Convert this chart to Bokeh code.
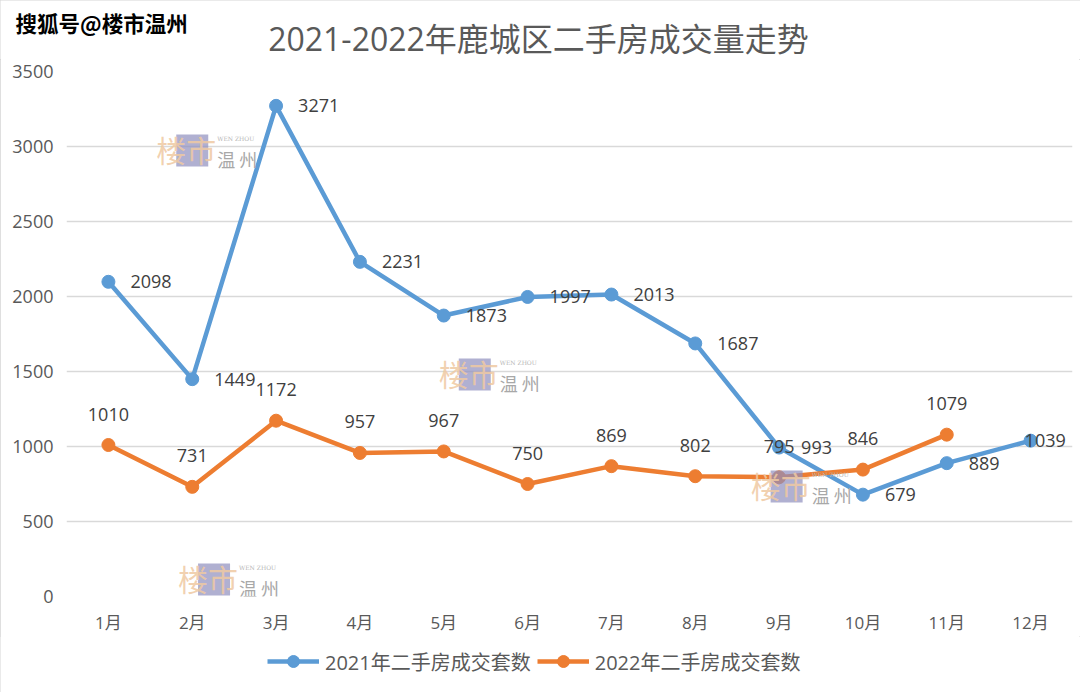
from bokeh.plotting import figure
from bokeh.layouts import column, row
from bokeh.models import (Range1d, FixedTicker, Legend, LegendItem, Label,
                          ColumnDataSource)
from bokeh.core.properties import value
from bokeh.embed import file_html
from bokeh.resources import INLINE

# ---------------- data ----------------
months = ["1月", "2月", "3月", "4月", "5月", "6月",
          "7月", "8月", "9月", "10月", "11月", "12月"]
sales_2021 = [2098, 1449, 3271, 2231, 1873, 1997, 2013, 1687, 993, 679, 889, 1039]
sales_2022 = [1010, 731, 1172, 957, 967, 750, 869, 802, 795, 846, 1079]
y_ticks = [0, 500, 1000, 1500, 2000, 2500, 3000, 3500]
title_text = "2021-2022年鹿城区二手房成交量走势"
legend_labels = ["2021年二手房成交套数", "2022年二手房成交套数"]
source_tag = "搜狐号@楼市温州"

# decorative watermark anchors (data coords)
watermark_x = [2.0, 5.37, 9.09, 2.26]
watermark_y = [2973, 1480, 733, 113]

# ---------------- style ----------------
BLUE = "#5B9BD5"
ORANGE = "#ED7D31"
GRID = "#d9d9d9"
AXIS_TXT = "#595959"
LBL_TXT = "#404040"
FONT = "Open Sans, Noto Sans CJK SC"
W = 1080
HEAD_H = 59
FOOT_H = 56

x_idx = list(range(1, len(months) + 1))
x22 = x_idx[:len(sales_2022)]


def bare(height, xr, yr):
    f = figure(width=W, height=height, x_range=xr, y_range=yr,
               output_backend="svg", toolbar_location=None,
               x_axis_location=None, y_axis_location=None,
               min_border=0)
    f.grid.visible = False
    f.outline_line_color = None
    f.background_fill_color = "white"
    f.border_fill_color = "white"
    return f


# ---------------- header strip (source tag + title) ----------------
head = bare(HEAD_H, Range1d(0, W), Range1d(HEAD_H, 0))
head.add_layout(Label(x=15, y=22, text=source_tag, text_align="left",
                      text_baseline="middle", text_font="Noto Sans CJK SC",
                      text_font_size="21.5px", text_font_style="bold",
                      text_color="black"))
head.add_layout(Label(x=538, y=38, text=title_text, text_align="center",
                      text_baseline="middle", text_font=FONT,
                      text_font_size="32px", text_color=AXIS_TXT))

# ---------------- main chart ----------------
p = figure(frame_width=1006, frame_height=525,
           x_range=Range1d(0.5, 12.5), y_range=Range1d(0, 3500),
           output_backend="svg", toolbar_location=None,
           min_border_left=66, min_border_right=8,
           min_border_top=12, min_border_bottom=40)
p.outline_line_color = None
p.background_fill_color = "white"
p.border_fill_color = "white"

p.xaxis.ticker = FixedTicker(ticks=x_idx)
p.xaxis.major_label_overrides = {i: m for i, m in zip(x_idx, months)}
p.xaxis.axis_line_color = None
p.xaxis.major_tick_line_color = None
p.xaxis.minor_tick_line_color = None
p.xaxis.major_tick_out = 0
p.xaxis.major_tick_in = 0
p.xaxis.minor_tick_out = 0
p.xaxis.major_label_text_font = FONT
p.xaxis.major_label_text_font_size = "17px"
p.xaxis.major_label_text_color = AXIS_TXT
p.xaxis.major_label_standoff = 14

p.yaxis.ticker = FixedTicker(ticks=y_ticks)
p.yaxis.axis_line_color = None
p.yaxis.major_tick_line_color = None
p.yaxis.minor_tick_line_color = None
p.yaxis.major_tick_out = 0
p.yaxis.major_tick_in = 0
p.yaxis.minor_tick_out = 0
p.yaxis.major_label_text_font = FONT
p.yaxis.major_label_text_font_size = "18px"
p.yaxis.major_label_text_color = AXIS_TXT
p.yaxis.major_label_standoff = 13

p.xgrid.grid_line_color = None
p.ygrid.ticker = FixedTicker(ticks=y_ticks)
p.ygrid.grid_line_color = GRID
p.ygrid.grid_line_width = 1.5

# series
p.line(x_idx, sales_2021, line_width=4.5, color=BLUE)
p.scatter(x_idx, sales_2021, size=13, color=BLUE)
p.line(x22, sales_2022, line_width=4.5, color=ORANGE)
p.scatter(x22, sales_2022, size=13, color=ORANGE)

# watermarks
p.scatter(watermark_x, watermark_y, marker="square", size=32,
          color="#8f8fbe", alpha=0.7, line_color=None)
p.text(watermark_x, watermark_y, text=["楼市"] * len(watermark_x),
       x_offset=-6, y_offset=-2, text_align="center", text_baseline="middle",
       text_font=value("Noto Sans CJK SC"), text_font_size="30px",
       text_color="#efc9a2", text_alpha=0.85)
p.text(watermark_x, watermark_y, text=["WEN ZHOU"] * len(watermark_x),
       x_offset=25, y_offset=-12, text_align="left", text_baseline="middle",
       text_font=value("DejaVu Serif"), text_font_size="6px",
       text_color="#b5b5b5")
p.text(watermark_x, watermark_y, text=["温 州"] * len(watermark_x),
       x_offset=25, y_offset=8, text_align="left", text_baseline="middle",
       text_font=value("Noto Sans CJK SC"), text_font_size="18px",
       text_color="#a8a8a8")

# data labels
dx21 = [22] * (len(sales_2021) - 1) + [-6]
src21 = ColumnDataSource(dict(x=x_idx, y=sales_2021,
                              t=[str(v) for v in sales_2021], dx=dx21))
p.text(x="x", y="y", text="t", x_offset="dx", source=src21,
       text_align="left", text_baseline="middle",
       text_font=value(FONT), text_font_size="18px", text_color=LBL_TXT)
p.text(x22, sales_2022, text=[str(v) for v in sales_2022], y_offset=-31,
       text_align="center", text_baseline="middle",
       text_font=value(FONT), text_font_size="18px", text_color=LBL_TXT)

# ---------------- legend strip ----------------
# (series re-drawn off-range here, so only their legend keys show)
foot = bare(FOOT_H, Range1d(-1, 0), Range1d(-1, 0))
k21 = [foot.line(x_idx, sales_2021, line_width=4.5, color=BLUE),
       foot.scatter(x_idx, sales_2021, size=13, color=BLUE)]
k22 = [foot.line(x22, sales_2022, line_width=4.5, color=ORANGE),
       foot.scatter(x22, sales_2022, size=13, color=ORANGE)]
legend = Legend(items=[LegendItem(label=legend_labels[0], renderers=k21),
                       LegendItem(label=legend_labels[1], renderers=k22)],
                orientation="horizontal", location=(267, 16),
                label_text_font=FONT, label_text_font_size="20px",
                label_text_color=AXIS_TXT, glyph_width=52, glyph_height=30,
                label_standoff=6, spacing=6, padding=2, margin=0,
                border_line_color=None, background_fill_alpha=0)
foot.add_layout(legend)

page = column(row(head), p, row(foot), spacing=0,
              styles={"outline": "1px solid #d4d4d4", "outline-offset": "-1px"})

open("out.html", "w").write(file_html(page, INLINE))
